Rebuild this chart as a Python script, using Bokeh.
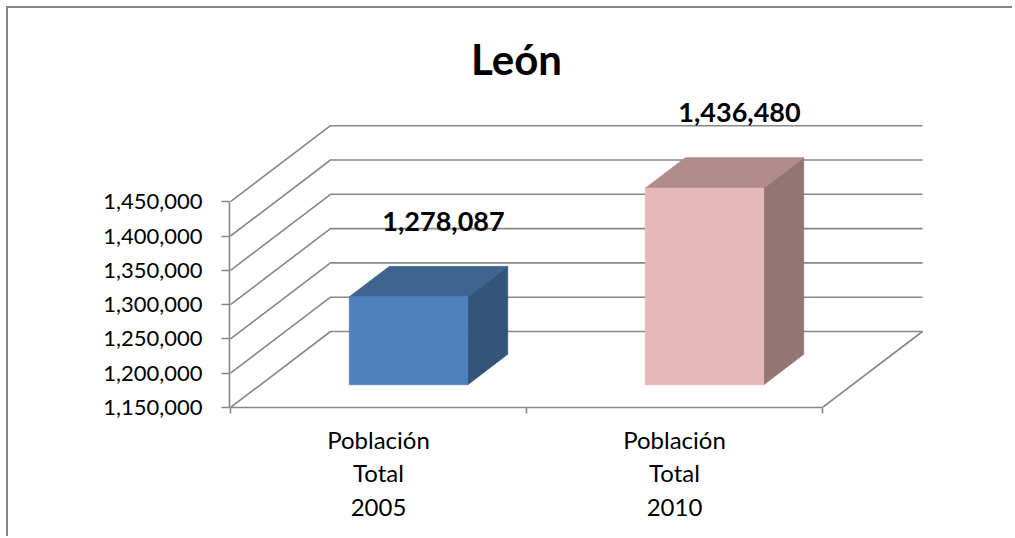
from bokeh.plotting import figure
from bokeh.models import Range1d, FixedTicker, NumeralTickFormatter
from bokeh.embed import file_html
from bokeh.resources import INLINE
from bokeh.core.properties import value

# ---------------- data ----------------
title_text = "León"
categories = ["Población\nTotal\n2005", "Población\nTotal\n2010"]
values = [1278087, 1436480]
value_labels = ["1,278,087", "1,436,480"]
y_ticks = [1150000, 1200000, 1250000, 1300000, 1350000, 1400000, 1450000]

front_colors = ["#4F81BD", "#E6B9B8"]
top_colors = ["#3F6490", "#AF8C8B"]
side_colors = ["#34547C", "#937574"]
GRID = "#878787"
FONT = "Lato"

# ---------------- layout (page pixels) ----------------
W, H = 1012, 536
PAGE = 0
FRAME_L, FRAME_R, FRAME_T, FRAME_B = 229, 995, 14, 407
X0_PX = 230.0          # page px of category edge 0
SX = 296.0             # px per category
SY = 34.3 / 50000.0    # px per value unit
DEPTH_PX = (100.0, 76.0)
BASE = y_ticks[0]
BAR_W = 0.4
D0, D1 = 0.3, 0.7      # bar depth span (fraction of floor depth)

DX = DEPTH_PX[0] / SX
DY = DEPTH_PX[1] / SY
n = len(values)

x_range = Range1d((FRAME_L - X0_PX) / SX, (FRAME_R - X0_PX) / SX)
y_range = Range1d(BASE, BASE + (FRAME_B - FRAME_T) / SY)

p = figure(width=W, height=H, x_range=x_range, y_range=y_range,
           output_backend="svg", toolbar_location=None,
           min_border_left=FRAME_L - PAGE, min_border_right=W - (FRAME_R - PAGE),
           min_border_top=FRAME_T - PAGE, min_border_bottom=H - (FRAME_B - PAGE))
p.outline_line_color = None
p.xgrid.visible = False
p.ygrid.visible = False
p.background_fill_color = "white"
p.border_fill_alpha = 0
p.styles = {"box-shadow": "inset 6px 6px 0px 0px #ffffff, inset 8px 8px 0px 0px #878787"}

# ---------------- walls / gridlines ----------------
gx, gy = [], []
for t in y_ticks:
    gx.append([0, DX, n + DX])
    gy.append([t, t + DY, t + DY])
gx.append([n, n + DX])
gy.append([BASE, BASE + DY])
p.multi_line(gx, gy, line_color=GRID, line_width=1.6)

# ---------------- 3D bars ----------------
top_xs, top_ys, side_xs, side_ys = [], [], [], []
fl, fr, fb, ft = [], [], [], []
for i, v in enumerate(values):
    x0 = i + 0.5 - BAR_W / 2
    x1 = i + 0.5 + BAR_W / 2
    ox0, oy0 = D0 * DX, D0 * DY
    ox1, oy1 = D1 * DX, D1 * DY
    fl.append(x0 + ox0); fr.append(x1 + ox0)
    fb.append(BASE + oy0); ft.append(v + oy0)
    top_xs.append([x0 + ox0, x1 + ox0, x1 + ox1, x0 + ox1])
    top_ys.append([v + oy0, v + oy0, v + oy1, v + oy1])
    side_xs.append([x1 + ox0, x1 + ox1, x1 + ox1, x1 + ox0])
    side_ys.append([BASE + oy0, BASE + oy1, v + oy1, v + oy0])

p.patches(side_xs, side_ys, fill_color=side_colors, line_color=side_colors, line_width=0.8)
p.patches(top_xs, top_ys, fill_color=top_colors, line_color=top_colors, line_width=0.8)
p.quad(left=fl, right=fr, bottom=fb, top=ft, fill_color=front_colors,
       line_color=front_colors, line_width=0.8)

# ---------------- value labels ----------------
p.text(x=[i + 0.5 + 0.65 * DX for i in range(n)], y=[v + DY for v in values],
       text=value_labels, text_font=value(FONT), text_font_style="bold",
       text_font_size="27px", text_align="center", text_baseline="middle",
       y_offset=-22, text_color="black")

# ---------------- title ----------------
p.text(x=[(516 - X0_PX) / SX], y=[BASE + (FRAME_B - 58) / SY], text=[title_text],
       text_font=value(FONT), text_font_style="bold", text_font_size="42px",
       text_align="center", text_baseline="middle", text_color="black")

# ---------------- axes ----------------
ya = p.yaxis[0]
ya.ticker = FixedTicker(ticks=y_ticks)
ya.bounds = (y_ticks[0], y_ticks[-1])
ya.formatter = NumeralTickFormatter(format="0,0")
ya.axis_line_color = GRID
ya.axis_line_width = 1.6
ya.major_tick_line_color = GRID
ya.major_tick_line_width = 1.6
ya.major_tick_out = 8
ya.major_tick_in = 0
ya.minor_tick_line_color = None
ya.major_label_standoff = 19
ya.major_label_text_font = FONT
ya.major_label_text_font_size = "22px"
ya.major_label_text_color = "black"

centers = [i + 0.5 for i in range(n)]
edges = [float(i) for i in range(n + 1)]
xa = p.xaxis[0]
xa.ticker = FixedTicker(ticks=centers, minor_ticks=edges)
xa.bounds = (0, n)
xa.major_label_overrides = {c: lab for c, lab in zip(centers, categories)}
xa.axis_line_color = GRID
xa.axis_line_width = 1.6
xa.major_tick_line_color = None
xa.major_tick_out = 0
xa.major_tick_in = 0
xa.minor_tick_line_color = GRID
xa.minor_tick_line_width = 1.6
xa.minor_tick_out = 6
xa.minor_tick_in = 0
xa.major_label_standoff = 11
xa.major_label_text_font = FONT
xa.major_label_text_font_size = "24px"
xa.major_label_text_color = "black"
xa.major_label_text_line_height = 1.17

open("out.html", "w").write(file_html(p, INLINE))
